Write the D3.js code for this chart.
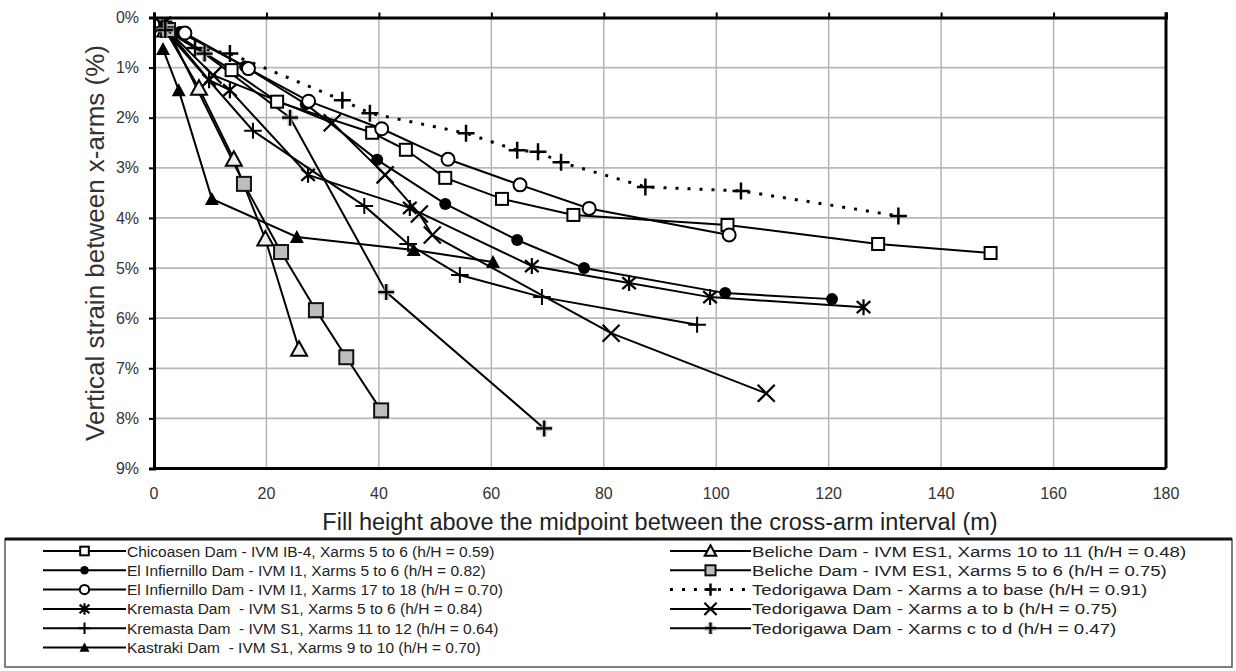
<!DOCTYPE html>
<html><head><meta charset="utf-8">
<script src="https://cdn.jsdelivr.net/npm/d3@7/dist/d3.min.js"></script>
<style>body{margin:0;background:#fff}svg{display:block}text{font-family:"Liberation Sans",Arial,sans-serif}</style>
</head><body><svg id="c" width="1236" height="671"></svg>
<script>
const xTicks = [0,20,40,60,80,100,120,140,160,180];
const yTicks = [0,1,2,3,4,5,6,7,8,9];
const xTitle = "Fill height above the midpoint between the cross-arm interval (m)";
const yTitle = "Vertical strain between x-arms (%)";

const seriesNames = [
 "Chicoasen Dam - IVM IB-4, Xarms 5 to 6 (h/H = 0.59)",
 "El Infiernillo Dam - IVM I1, Xarms 5 to 6 (h/H = 0.82)",
 "El Infiernillo Dam - IVM I1, Xarms 17 to 18 (h/H = 0.70)",
 "Kremasta Dam  - IVM S1, Xarms 5 to 6 (h/H = 0.84)",
 "Kremasta Dam  - IVM S1, Xarms 11 to 12 (h/H = 0.64)",
 "Kastraki Dam  - IVM S1, Xarms 9 to 10 (h/H = 0.70)",
 "Beliche Dam - IVM ES1, Xarms 10 to 11 (h/H = 0.48)",
 "Beliche Dam - IVM ES1, Xarms 5 to 6 (h/H = 0.75)",
 "Tedorigawa Dam - Xarms a to base (h/H = 0.91)",
 "Tedorigawa Dam - Xarms a to b (h/H = 0.75)",
 "Tedorigawa Dam - Xarms c to d (h/H = 0.47)"
];
const seriesMarkers = ["square","dot","circle","asterisk","thinplus","tri","opentri","graysquare","plus","cross","boldplus"];

const chicoasen = [[2,0.2],[13.8,1.05],[21.9,1.68],[38.8,2.3],[44.8,2.64],[51.8,3.2],[61.9,3.62],[74.6,3.94],[102,4.14],[128.8,4.52],[148.8,4.7]];
const infiernillo56 = [[4.6,0.29],[16.2,0.98],[27,1.73],[39.7,2.84],[51.8,3.72],[64.6,4.44],[76.5,5.0],[101.6,5.5],[120.6,5.62]];
const infiernillo1718 = [[5.5,0.31],[16.8,1.02],[27.5,1.67],[40.5,2.22],[52.3,2.83],[65.1,3.34],[77.4,3.81],[102.3,4.34]];
const kremasta56 = [[2,0.2],[9.8,1.25],[13.5,1.45],[27.4,3.14],[45.5,3.8],[67.2,4.96],[84.5,5.3],[98.9,5.58],[126.2,5.78]];
const kremasta1112 = [[1.5,0.2],[17.6,2.26],[37.4,3.76],[45.2,4.52],[54.4,5.14],[69,5.58],[96.6,6.13]];
const kastraki = [[1.6,0.63],[4.4,1.45],[10.3,3.62],[25.4,4.38],[46.2,4.64],[60.3,4.88]];
const beliche1011 = [[2,0.25],[8,1.41],[14.2,2.83],[19.8,4.42],[25.8,6.62]];
const beliche56 = [[2.5,0.25],[16,3.32],[22.6,4.68],[28.8,5.84],[34.2,6.78],[40.4,7.84]];
const tedoBase = [[2,0.2],[7.3,0.61],[13.5,0.72],[33.5,1.65],[38.4,1.91],[55.5,2.31],[64.6,2.65],[68.3,2.68],[72.4,2.89],[87.4,3.38],[104.4,3.46],[132.4,3.96]];
const tedoAB = [[1.5,0.15],[10.5,1.15],[31.7,2.1],[41.1,3.14],[47.2,3.92],[49.5,4.34],[81.3,6.3],[108.9,7.5]];
const tedoCD = [[2,0.25],[9,0.72],[24.2,2.0],[41.3,5.48],[69.4,8.2]];

const seriesData = [chicoasen,infiernillo56,infiernillo1718,kremasta56,kremasta1112,kastraki,beliche1011,beliche56,tedoBase,tedoAB,tedoCD];

const svg = d3.select("#c");
const x = d3.scaleLinear().domain([0,180]).range([154,1166]);
const y = d3.scaleLinear().domain([0,9]).range([17.5,468.5]);

// grid
const g = svg.append("g");
g.selectAll(".vg").data(xTicks.slice(1,-1)).join("line")
 .attr("x1",d=>x(d)).attr("x2",d=>x(d)).attr("y1",y(0)).attr("y2",y(9))
 .attr("stroke","#b0b0b0").attr("stroke-width",1.4);
g.selectAll(".hg").data(yTicks.slice(1,-1)).join("line")
 .attr("x1",x(0)).attr("x2",x(180)).attr("y1",d=>y(d)).attr("y2",d=>y(d))
 .attr("stroke","#b8b8b8").attr("stroke-width",1.8);

// axes
const xAxis = d3.axisTop(x).tickValues(xTicks).tickSize(5).tickFormat("");
const ax = svg.append("g").attr("transform",`translate(0,${y(0)})`).call(xAxis);
ax.select(".domain").attr("stroke","#000").attr("stroke-width",3);
ax.selectAll(".tick line").attr("stroke","#000").attr("stroke-width",2);
const yAxis = d3.axisLeft(y).tickValues(yTicks).tickSize(5).tickFormat(d=>d+"%");
const ay = svg.append("g").attr("transform",`translate(${x(0)},0)`).call(yAxis);
ay.select(".domain").attr("stroke","#000").attr("stroke-width",3);
ay.selectAll(".tick line").attr("stroke","#000").attr("stroke-width",2);
ay.selectAll(".tick text").attr("font-size",16).attr("fill","#333").attr("x",-15).attr("font-family","Liberation Sans, Arial");
svg.append("line").attr("x1",x(0)).attr("x2",x(180)).attr("y1",y(9)).attr("y2",y(9)).attr("stroke","#000").attr("stroke-width",3);
svg.append("line").attr("x1",x(180)).attr("x2",x(180)).attr("y1",y(0)-5).attr("y2",y(9)).attr("stroke","#000").attr("stroke-width",3);
// x tick labels along bottom
svg.selectAll(".xl").data(xTicks).join("text").attr("x",d=>x(d)).attr("y",499)
 .attr("text-anchor","middle").attr("font-size",16).attr("fill","#333").text(d=>d);

svg.append("text").attr("x",660).attr("y",530).attr("text-anchor","middle").attr("font-size",23.5).attr("fill","#222").text(xTitle);
svg.append("text").attr("transform",`translate(104,${y(4.5)}) rotate(-90)`).attr("text-anchor","middle").attr("font-size",26).attr("fill","#333").text(yTitle);

function marker(sel, type, s){
  const k = s;
  if(type==="square"){ sel.append("rect").attr("x",-6*k).attr("y",-6*k).attr("width",12*k).attr("height",12*k).attr("fill","#fff").attr("stroke","#000").attr("stroke-width",2); }
  else if(type==="graysquare"){ sel.append("rect").attr("x",-7*k).attr("y",-7*k).attr("width",14*k).attr("height",14*k).attr("fill","#bdbdbd").attr("stroke","#111").attr("stroke-width",2); }
  else if(type==="dot"){ sel.append("circle").attr("r",6*k).attr("fill","#000"); }
  else if(type==="circle"){ sel.append("circle").attr("r",6.5*k).attr("fill","#fff").attr("stroke","#000").attr("stroke-width",2); }
  else if(type==="tri"){ sel.append("path").attr("d",`M0,${-7*k}L${7*k},${6*k}L${-7*k},${6*k}Z`).attr("fill","#000"); }
  else if(type==="opentri"){ sel.append("path").attr("d",`M0,${-8*k}L${8*k},${6.5*k}L${-8*k},${6.5*k}Z`).attr("fill","#eee").attr("stroke","#000").attr("stroke-width",2); }
  else if(type==="asterisk"){ const r=8*k; sel.append("path").attr("d",`M0,${-r}V${r}M${-r*0.85},${-r*0.75}L${r*0.85},${r*0.75}M${-r*0.85},${r*0.75}L${r*0.85},${-r*0.75}`).attr("stroke","#000").attr("stroke-width",2.2); }
  else if(type==="cross"){ const r=8.5*k; sel.append("path").attr("d",`M${-r},${-r}L${r},${r}M${-r},${r}L${r},${-r}`).attr("stroke","#000").attr("stroke-width",2.2); }
  else if(type==="plus"){ const r=8.5*k; sel.append("path").attr("d",`M0,${-r}V${r}M${-r},0H${r}`).attr("stroke","#000").attr("stroke-width",2.5); }
  else if(type==="thinplus"){ const r=8*k; sel.append("path").attr("d",`M0,${-r}V${r}M${-r*1.1},0H${r*1.1}`).attr("stroke","#000").attr("stroke-width",2); }
  else if(type==="boldplus"){ const r=8*k; sel.append("path").attr("d",`M0,${-r}V${r}M${-r},0H${r}`).attr("stroke","#aaa").attr("stroke-width",5).attr("opacity",0.7);
    sel.append("path").attr("d",`M0,${-r}V${r}M${-r},0H${r}`).attr("stroke","#000").attr("stroke-width",2.2); }
}

const line = d3.line().x(d=>x(d[0])).y(d=>y(d[1]));
const plot = svg.append("g");
seriesData.forEach((data,i)=>{
  plot.append("path").attr("d",line(data)).attr("fill","none").attr("stroke","#000")
   .attr("stroke-width",i===8?3:2).attr("stroke-dasharray",i===8?"3,9":null).attr("stroke-linecap","butt");
});
seriesData.forEach((data,i)=>{
  data.forEach(d=>{
    const m = plot.append("g").attr("transform",`translate(${x(d[0])},${y(d[1])})`);
    marker(m, seriesMarkers[i], 1);
  });
});

// legend
const lg = svg.append("g");
lg.append("rect").attr("x",5).attr("y",539).attr("width",1227).attr("height",128).attr("fill","#fff").attr("stroke","#555").attr("stroke-width",1.5);
lg.append("line").attr("x1",5).attr("x2",1232).attr("y1",539).attr("y2",539).attr("stroke","#111").attr("stroke-width",3);
const cols = [{x0:43,x1:126,tx:127,sx:1},{x0:670,x1:751,tx:752,sx:1.2}];
seriesNames.forEach((name,i)=>{
  const c = i<6?cols[0]:cols[1];
  const row = i<6?i:i-6;
  const yy = 551 + row*19.3;
  lg.append("line").attr("x1",c.x0).attr("x2",c.x1).attr("y1",yy).attr("y2",yy).attr("stroke","#000")
    .attr("stroke-width",i===8?3:2).attr("stroke-dasharray",i===8?"3,9":null);
  const m = lg.append("g").attr("transform",`translate(${(c.x0+c.x1)/2},${yy})`);
  marker(m, seriesMarkers[i], 0.72);
  lg.append("text").attr("transform",`translate(${c.tx},${yy+5.5}) scale(${c.sx},1)`)
    .attr("font-size",15.5).attr("fill","#222").attr("xml:space","preserve").style("white-space","pre").text(name);
});
</script></body></html>
